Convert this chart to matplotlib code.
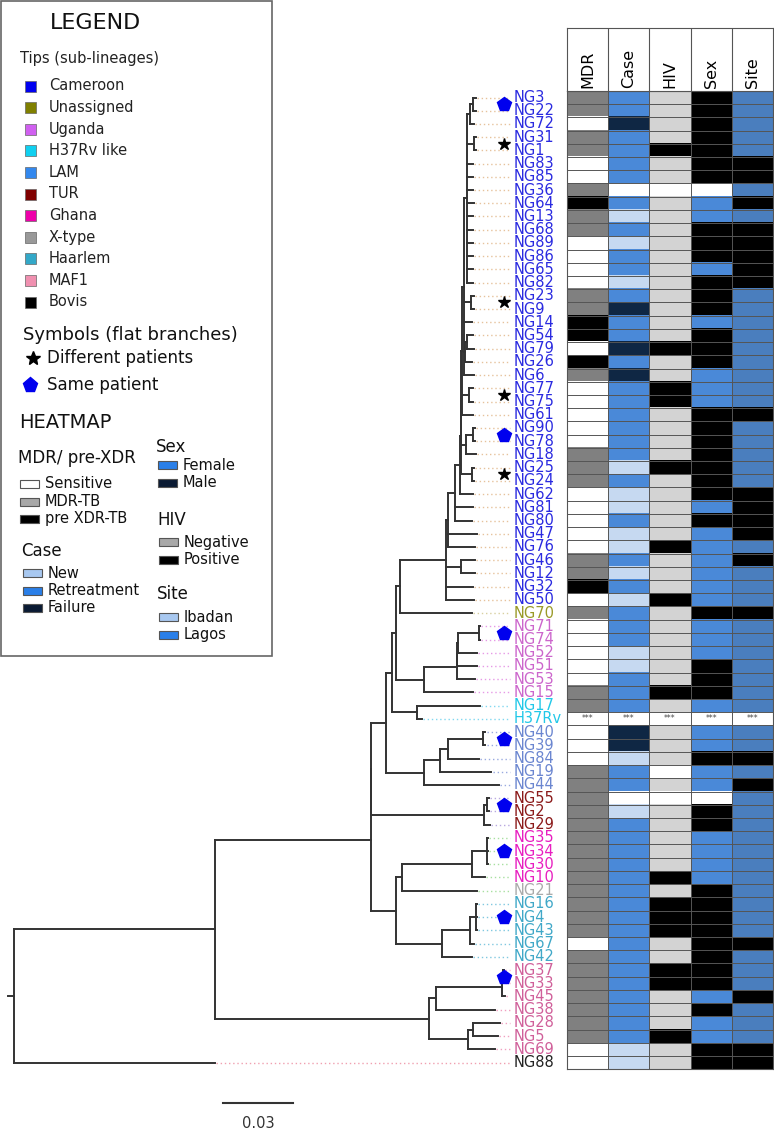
import numpy as np
import matplotlib
matplotlib.use("Agg")
import matplotlib.pyplot as plt
from matplotlib.collections import LineCollection
from matplotlib.patches import Rectangle

# ---- data ----
# tree (branch lengths in substitutions/site), root stub 0.0026
tree_newick = (
    "((((((((((((((((("
    "((NG3:0.0013,NG22:0.0013):0.0013,NG72:0.0017):0.0013,"
    "(NG31:0.0009,NG1:0.0009):0.0030,"
    "NG83:0.0026,NG85:0.0026,NG36:0.0026,NG64:0.0030,NG13:0.0026,"
    "NG68:0.0026,NG89:0.0026,NG86:0.0026,NG65:0.0026,NG82:0.0026"
    "):0.0013,"
    "(NG23:0.0013,NG9:0.0013):0.0030,NG14:0.0034,"
    "((NG54:0.0026,NG79:0.0030):0.0009,NG26:0.0030):0.0004,NG6:0.0043"
    "):0.0009,"
    "(NG77:0.0017,NG75:0.0017):0.0030,NG61:0.0047"
    "):0.0002,"
    "((NG90:0.0009,NG78:0.0009):0.0030,NG18:0.0043):0.0019"
    "):0.0002,"
    "(NG25:0.0009,NG24:0.0009):0.0047"
    "):0.0004,"
    "NG62:0.0056"
    "):0.0021,"
    "NG81:0.0077,NG80:0.0073"
    "):0.0030,"
    "NG47:0.0124,NG76:0.0116"
    "):0.0009,"
    "(NG46:0.0060,NG12:0.0060):0.0064,NG32:0.0116,NG50:0.0120"
    "):0.0197,"
    "NG70:0.0309"
    "):0.0017,"
    "(((((NG71:0.0004,NG74:0.0004):0.0090,NG52:0.0081):0.0002,NG51:0.0084):0.0002,"
    "NG53:0.0077):0.0141,NG15:0.0210):0.0120"
    "):0.0017,"
    "(NG17:0.0270,H37Rv:0.0021):0.0107"
    "):0.0026,"
    "((((NG40:0.0009,NG39:0.0009):0.0150,NG84:0.0133):0.0034,NG19:0.0219):0.0069,"
    "NG44:0.0321):0.0163"
    "):0.0062,"
    "((NG55:0.0009,NG2:0.0009):0.0013,NG29:0.0026):0.0482"
    "):0.0002,"
    "((((NG35:0.0004,NG34:0.0004,NG30:0.0004):0.0064,NG10:0.0056):0.0300,"
    "NG21:0.0321):0.0026,"
    "(((NG16:0.0004,NG4:0.0004,NG43:0.0004):0.0026,NG67:0.0017):0.0120,"
    "NG42:0.0129):0.0197):0.0107"
    "):0.0669,"
    "((((NG37:0.0004,NG33:0.0004):0.0004,NG45:0.0013):0.0283,NG38:0.0253):0.0030,"
    "((NG28:0.0116,NG5:0.0107):0.0021,NG69:0.0116):0.0167):0.0917"
    "):0.0861,"
    "NG88:0.0861"
    "):0.0026;"
)

tips = ["NG3", "NG22", "NG72", "NG31", "NG1", "NG83", "NG85", "NG36", "NG64", "NG13",
        "NG68", "NG89", "NG86", "NG65", "NG82", "NG23", "NG9", "NG14", "NG54", "NG79",
        "NG26", "NG6", "NG77", "NG75", "NG61", "NG90", "NG78", "NG18", "NG25", "NG24",
        "NG62", "NG81", "NG80", "NG47", "NG76", "NG46", "NG12", "NG32", "NG50",
        "NG70",
        "NG71", "NG74", "NG52", "NG51", "NG53", "NG15",
        "NG17", "H37Rv",
        "NG40", "NG39", "NG84", "NG19", "NG44",
        "NG55", "NG2", "NG29",
        "NG35", "NG34", "NG30", "NG10",
        "NG21",
        "NG16", "NG4", "NG43", "NG67", "NG42",
        "NG37", "NG33", "NG45", "NG38", "NG28", "NG5", "NG69",
        "NG88"]

# lineage code of each tip, same order as tips
lineage = ("CM CM CM CM CM CM CM CM CM CM CM CM CM CM CM CM CM CM CM CM "
           "CM CM CM CM CM CM CM CM CM CM CM CM CM CM CM CM CM CM CM "
           "UN UG UG UG UG UG UG HL HL LA LA LA LA LA TU TU TU "
           "GH GH GH GH XT HA HA HA HA HA MA MA MA MA MA MA MA BO").split()

# heatmap columns, one code per tip
mdr = ("M M S M M S S M X M M S S S S M M X X S X M S S S S S M M M S S S S S M M X S "
       "M S S S S S M M - S S S M M M M M M M M M M M M M S M M M M M M M S S").split()
case = ("R R F R R R R - R N R N R R N R F R R F R F R R R R R R N R N N R N N R N R N "
        "R R R N N R R R - F F N R R - N R R R R R R R R R R R R R R R R R N N").split()
hiv = ("N N N N P N N - N N N N N N N N N N N P N N P P N N N N P N N N N N P N N N P "
       "N N N N N N P N - N N N - N - N N N N N P N P P P N N P P N N N P N N").split()
sex = ("M M M M M M M - F F M M M F M M M F M M M F F F M M M M M M M F M F F F F F F "
       "M F F F M M M F - F F M F F - M M F F F F M M M M M M M M F M F F M M").split()
site = ("L L L L L I I L I L I I I I I L L L L L L L L L I L L L L L I I I I L I L L L "
        "I L L L L L L L - L L I L I L L L L L L L L L L L I L L L I L L L I I").split()

heat_cols = ["MDR", "Case", "HIV", "Sex", "Site"]

lineage_names = ["Cameroon", "Unassigned", "Uganda", "H37Rv like", "LAM", "TUR",
                 "Ghana", "X-type", "Haarlem", "MAF1", "Bovis"]
lineage_codes = ["CM", "UN", "UG", "HL", "LA", "TU", "GH", "XT", "HA", "MA", "BO"]

# flat-branch symbols: (tip a, tip b, kind)
symbols = [("NG3", "NG22", "same"), ("NG31", "NG1", "diff"), ("NG23", "NG9", "diff"),
           ("NG77", "NG75", "diff"), ("NG90", "NG78", "same"), ("NG25", "NG24", "diff"),
           ("NG71", "NG74", "same"), ("NG40", "NG39", "same"), ("NG55", "NG2", "same"),
           ("NG34", "NG34", "same"), ("NG4", "NG4", "same"), ("NG37", "NG33", "same")]

# ---- styles ----
legend_sq = ["#0000f0", "#808000", "#d060f0", "#10d0f0", "#3388ee", "#800000",
             "#ee00aa", "#999999", "#33a8c8", "#f090b0", "#000000"]
label_col = ["#2a2ae0", "#9a9a28", "#cc66cc", "#22c8e8", "#6b86d0", "#8b1a1a",
             "#e81ec0", "#aaaaaa", "#40a8c8", "#d0609a", "#222222"]
leader_col = ["#e6c29c", "#d8d0a0", "#e69ae6", "#80d8f0", "#9aaae0", "#b8a8e0",
              "#a8e0a0", "#a8e0a0", "#80c8e0", "#f0a0c0", "#f0a0b0"]
code_idx = {c: i for i, c in enumerate(lineage_codes)}

cell_colors = [
    {"S": "#ffffff", "M": "#808080", "X": "#000000", "-": "#ffffff"},
    {"N": "#c6d9f1", "R": "#4a89d8", "F": "#0f2744", "-": "#ffffff"},
    {"N": "#d3d3d3", "P": "#000000", "-": "#ffffff"},
    {"F": "#4a89d8", "M": "#000000", "-": "#ffffff"},
    {"L": "#4a7ebe", "I": "#000000", "-": "#ffffff"},
]

W, H = 774, 1130
K = 70 / 0.03          # px per substitution unit
ROOT_PX = 14
ROW0, DY = 97.5, 13.22  # px of first tip row, row spacing


def parse_newick(s):
    s = s.strip().rstrip(";")
    pos = 0

    def node():
        nonlocal pos
        kids = []
        if s[pos] == "(":
            pos += 1
            kids.append(node())
            while s[pos] == ",":
                pos += 1
                kids.append(node())
            pos += 1
        start = pos
        while pos < len(s) and s[pos] not in ":,()":
            pos += 1
        name = s[start:pos]
        bl = 0.0
        if pos < len(s) and s[pos] == ":":
            pos += 1
            start = pos
            while pos < len(s) and s[pos] not in ",()":
                pos += 1
            bl = float(s[start:pos])
        return {"name": name, "bl": bl, "children": kids}

    return node()


root = parse_newick(tree_newick)
order = []


def layout(n, x0):
    n["x0"] = x0
    n["x"] = x0 + n["bl"]
    if not n["children"]:
        n["y"] = len(order)
        order.append(n["name"])
    else:
        for c in n["children"]:
            layout(c, n["x"])
        n["y"] = (n["children"][0]["y"] + n["children"][-1]["y"]) / 2


layout(root, -root["bl"])
assert order == tips, "tip order mismatch"

segs = []
tip_x = {}


def collect(n):
    segs.append([(n["x0"], n["y"]), (n["x"], n["y"])])
    if n["children"]:
        segs.append([(n["x"], n["children"][0]["y"]), (n["x"], n["children"][-1]["y"])])
        for c in n["children"]:
            collect(c)
    else:
        tip_x[n["name"]] = n["x"]


collect(root)

fig = plt.figure(figsize=(W / 100, H / 100), dpi=100)

# tree axes: x in substitutions, y in tip rows
ax = fig.add_axes([0, 0, 1, 1])
ax.set_xlim(-ROOT_PX / K, (W - ROOT_PX) / K)
ax.set_ylim((H - ROW0) / DY, -ROW0 / DY)
ax.axis("off")

ax.add_collection(LineCollection(segs, colors="#333333", linewidths=1.4,
                                 capstyle="projecting", zorder=3))

lead_end = (510 - ROOT_PX) / K
label_x = (514 - ROOT_PX) / K
for i, t in enumerate(tips):
    li = code_idx[lineage[i]]
    ax.plot([tip_x[t] + 0.0006, lead_end], [i, i], linestyle=(0, (1, 2)),
            color=leader_col[li], lw=1.0, zorder=2)
    ax.text(label_x, i, t, color=label_col[li], fontsize=10.5,
            va="center", ha="left", zorder=4)

tip_pos = {t: i for i, t in enumerate(tips)}
sym_x = (504 - ROOT_PX) / K
for a, b, kind in symbols:
    y = (tip_pos[a] + tip_pos[b]) / 2
    if kind == "same":
        ax.plot(sym_x, y, marker="p", ms=10, color="#0000ee", mec="#0000ee", zorder=5)
    else:
        ax.plot(sym_x, y, marker="*", ms=9, color="black", zorder=5)

# scale bar
sb_x = (223 - ROOT_PX) / K
sb_y = (1103 - ROW0) / DY
ax.plot([sb_x, sb_x + 0.03], [sb_y, sb_y], color="#333333", lw=1.5)
ax.text(sb_x + 0.015, (1123 - ROW0) / DY, "0.03", ha="center", va="center",
        fontsize=10.5, color="#333333")

# heatmap
hm_top = ROW0 - DY / 2
hm_bot = ROW0 + DY * (len(tips) - 0.5)
hm_left, hm_right = 567, 773
ax_hm = fig.add_axes([hm_left / W, 1 - hm_bot / H, (hm_right - hm_left) / W, (hm_bot - hm_top) / H])
codes = [mdr, case, hiv, sex, site]
rgb = np.array([[matplotlib.colors.to_rgb(cell_colors[j][codes[j][i]]) for j in range(5)]
                for i in range(len(tips))])
ax_hm.imshow(rgb, extent=(0, 5, len(tips), 0), aspect="auto", interpolation="nearest")
ax_hm.hlines(np.arange(1, len(tips)), 0, 5, color="#555555", lw=0.7)
ax_hm.vlines(np.arange(1, 5), 0, len(tips), color="#555555", lw=0.7)
h37 = tips.index("H37Rv")
for j in range(5):
    ax_hm.text(j + 0.5, h37 + 0.5, "***", ha="center", va="center", fontsize=5.5, color="#444444")
ax_hm.set_xlim(0, 5)
ax_hm.set_ylim(len(tips), 0)
ax_hm.set_xticks([])
ax_hm.set_yticks([])
for sp in ax_hm.spines.values():
    sp.set_color("#555555")
    sp.set_linewidth(0.8)

# heatmap header
ax_hd = fig.add_axes([hm_left / W, 1 - hm_top / H, (hm_right - hm_left) / W, (hm_top - 28) / H])
ax_hd.set_xlim(0, 5)
ax_hd.set_ylim(0, 1)
ax_hd.vlines(np.arange(1, 5), 0, 1, color="#555555", lw=0.8)
for j, c in enumerate(heat_cols):
    ax_hd.text(j + 0.5, 0.05, c, rotation=90, ha="center", va="bottom", fontsize=11.5)
ax_hd.set_xticks([])
ax_hd.set_yticks([])
for sp in ax_hd.spines.values():
    sp.set_color("#555555")
    sp.set_linewidth(0.8)

# legend (pixel layout)
lg = fig.add_axes([0, 0, 1, 1], facecolor="none")
lg.set_xlim(0, W)
lg.set_ylim(H, 0)
lg.axis("off")
lg.add_patch(Rectangle((1, 1), 271, 655, fill=False, ec="#666666", lw=1.2))
lg.text(50, 23, "LEGEND", fontsize=16, va="center", color="#111111")
lg.text(20, 58, "Tips (sub-lineages)", fontsize=10.5, va="center", color="#222222")
for i, name in enumerate(lineage_names):
    yy = 86 + 21.6 * i
    lg.add_patch(Rectangle((25, yy - 5.5), 11, 11, fc=legend_sq[i], ec="#666666", lw=0.5))
    lg.text(49, yy, name, fontsize=10.5, va="center", color="#222222")

lg.text(23, 335, "Symbols (flat branches)", fontsize=13, va="center", color="#111111")
lg.plot(33, 358, marker="*", ms=10, color="black")
lg.text(47, 358, "Different patients", fontsize=12, va="center", color="#111111")
lg.plot(30, 385, marker="p", ms=11, color="#0000ee")
lg.text(47, 385, "Same patient", fontsize=12, va="center", color="#111111")

lg.text(19, 423, "HEATMAP", fontsize=14, va="center", color="#111111")

heat_legend = [
    ("MDR/ pre-XDR", 18, 458, [("Sensitive", "#ffffff"), ("MDR-TB", "#a8a8a8"), ("pre XDR-TB", "#000000")], 484),
    ("Case", 21, 551, [("New", "#a8c8f0"), ("Retreatment", "#2a7fe8"), ("Failure", "#0a1a33")], 573),
    ("Sex", 156, 447, [("Female", "#2a7fe8"), ("Male", "#0a1a33")], 465),
    ("HIV", 157, 520, [("Negative", "#a8a8a8"), ("Positive", "#000000")], 542),
    ("Site", 157, 594, [("Ibadan", "#a8c8f0"), ("Lagos", "#2a7fe8")], 617),
]
for title, tx, ty, items, y0 in heat_legend:
    lg.text(tx, ty, title, fontsize=12, va="center", color="#111111")
    for k, (lab, col) in enumerate(items):
        yy = y0 + 17.5 * k
        lg.add_patch(Rectangle((tx + 2, yy - 4), 19, 8, fc=col, ec="#555555", lw=0.8))
        lg.text(tx + 27, yy, lab, fontsize=10.5, va="center", color="#111111")

fig.savefig("out.png", dpi=100)
